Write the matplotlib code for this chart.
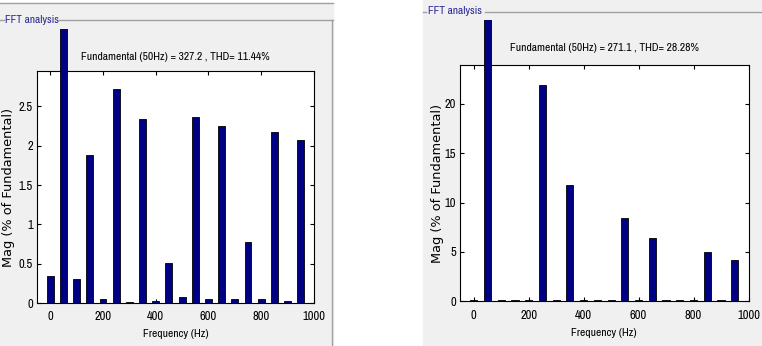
import matplotlib
matplotlib.use("Agg")
import matplotlib.pyplot as plt
from matplotlib.lines import Line2D
from matplotlib.patches import Rectangle
from matplotlib.ticker import FuncFormatter
from matplotlib.transforms import Bbox, TransformedBbox

# ---- data ----
freqs = [0, 50, 100, 150, 200, 250, 300, 350, 400, 450,
         500, 550, 600, 650, 700, 750, 800, 850, 900, 950]

mag_left = [0.34, 100, 0.30, 1.88, 0.056, 2.72, 0.013, 2.34, 0.026, 0.51,
            0.073, 2.365, 0.056, 2.25, 0.056, 0.775, 0.056, 2.18, 0.03, 2.07]
title_left = "Fundamental (50Hz) = 327.2 , THD= 11.44%"

mag_right = [0.12, 100, 0.1, 0.1, 0.1, 21.86, 0.1, 11.78, 0.1, 0.1,
             0.1, 8.48, 0.1, 6.4, 0.1, 0.1, 0.1, 5.02, 0.1, 4.2]
title_right = "Fundamental (50Hz) = 271.1 , THD= 28.28%"

xticks = [0, 200, 400, 600, 800, 1000]
yticks_left = [0, 0.5, 1, 1.5, 2, 2.5]
yticks_right = [0, 5, 10, 15, 20]

W, H = 762, 346
GRAY = "#f0f0f0"
FRAME = "#a0a0a0"
BAR = "#000084"
NARROW = ["Archivo Narrow", "Liberation Sans Narrow", "DejaVu Sans"]

fig = plt.figure(figsize=(W / 100, H / 100), dpi=100)
fig.patch.set_facecolor("white")


def fx(px):
    return px / W


def fy(py):
    # pixel row from top -> figure fraction
    return 1 - py / H


def fig_line(x0, y0, x1, y1):
    fig.add_artist(Line2D([fx(x0), fx(x1)], [fy(y0), fy(y1)],
                          transform=fig.transFigure, color=FRAME, lw=1))


# gray panel backgrounds
fig.add_artist(Rectangle((fx(0), fy(346)), fx(333), fy(3) - fy(346),
                         transform=fig.transFigure, color=GRAY, zorder=0))
fig.add_artist(Rectangle((fx(423), fy(346)), fx(762 - 423), fy(0) - fy(346),
                         transform=fig.transFigure, color=GRAY, zorder=0))

# panel frames
fig_line(0, 3, 333, 3)
fig_line(0, 20, 4, 20)
fig_line(59, 20, 333, 20)
fig_line(332, 20, 332, 346)
fig_line(423, 11.5, 426, 11.5)
fig_line(485, 11.5, 762, 11.5)

fig.text(fx(5), fy(20), "FFT analysis", color="#2a2a96", fontsize=8.2,
         family=NARROW, va="center", ha="left")
fig.text(fx(428), fy(11), "FFT analysis", color="#2a2a96", fontsize=8.2,
         family=NARROW, va="center", ha="left")


def fft_panel(box, mags, yticks, ytop, title, title_y, bar_top, ylab_x):
    x0, x1, top, bot = box
    ax = fig.add_axes([fx(x0), fy(bot), fx(x1 - x0), fy(top) - fy(bot)])
    bars = ax.bar(freqs, mags, width=26, color=BAR, edgecolor="black",
                  linewidth=0.6, zorder=3)
    # fundamental bar sticks out of the axes, cut by the panel
    clip = TransformedBbox(Bbox.from_extents(0, 0, 1, fy(bar_top)),
                           fig.transFigure)
    for b in bars:
        b.set_clip_box(clip)

    ax.set_xlim(-50, 1000)
    ax.set_ylim(0, ytop)
    ax.set_xticks(xticks)
    ax.set_yticks(yticks)
    ax.yaxis.set_major_formatter(FuncFormatter(lambda v, p: "%g" % v))
    ax.tick_params(direction="in", top=True, right=True, length=3,
                   width=0.8, labelsize=9)
    ax.tick_params(axis="x", pad=6)
    ax.tick_params(axis="y", pad=3)
    for lab in ax.get_xticklabels() + ax.get_yticklabels():
        lab.set_family(NARROW)
    for s in ax.spines.values():
        s.set_linewidth(0.8)

    ax.set_xlabel("Frequency (Hz)", fontsize=8.3, family=NARROW, labelpad=5)
    fig.text(fx(ylab_x), fy((top + bot) / 2), "Mag (% of Fundamental)",
             rotation=90, fontsize=9.3, family="DejaVu Sans",
             ha="center", va="center")
    fig.text(fx((x0 + x1) / 2), fy(title_y), title, fontsize=8.3,
             family=NARROW, ha="center", va="center")
    return ax


fft_panel((37, 314, 71, 303), mag_left, yticks_left, 2.95,
          title_left, 57, 29, 9)
fft_panel((460, 748.5, 65.3, 301.3), mag_right, yticks_right, 23.9,
          title_right, 48, 20, 437)

fig.savefig("out.png", dpi=100)
